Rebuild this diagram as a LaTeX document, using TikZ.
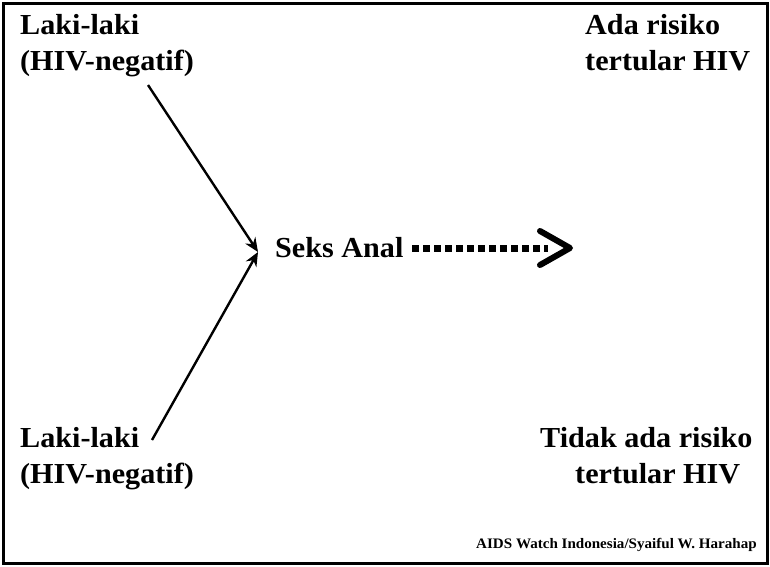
\documentclass[tikz,border=0pt]{standalone}
\usepackage{fontspec}
\setmainfont{Liberation Serif}[FakeStretch=1.04]
\usetikzlibrary{arrows.meta}
\begin{document}
\begin{tikzpicture}[x=1pt,y=-1pt,
  lbl/.style={font=\fontsize{29}{36}\selectfont\bfseries,inner sep=0pt,align=left},
  arr/.style={line width=2.4pt,-{Stealth[length=14pt,width=12pt]}}]
\useasboundingbox (0,0) rectangle (770,566);
\draw[line width=3pt] (3,3) rectangle (767,563);
\node[lbl,anchor=north west] (tl) at (20,14) {Laki-laki\\(HIV-negatif)};
\node[lbl,anchor=north west] (bl) at (20,427) {Laki-laki\\(HIV-negatif)};
\node[lbl,anchor=north west] (tr1) at (585,14) {Ada risiko};
\node[lbl,anchor=north west] (tr2) at (585,50) {tertular HIV};
\node[lbl,anchor=north west] (br1) at (540,427) {Tidak ada risiko};
\node[lbl,anchor=north west] (br2) at (575,463) {tertular HIV};
\node[lbl,anchor=west] (sa) at (275,248) {Seks Anal};
\node[font=\fontsize{14.5}{16}\selectfont\bfseries,anchor=east,inner sep=0pt] (cr) at (757,545) {AIDS Watch Indonesia/Syaiful W. Harahap};
\coordinate (t1) at (148,85);
\coordinate (t2) at (152,440);
\coordinate (h) at (258,252);
\coordinate (d1) at (412,248);
\coordinate (d2) at (570,248);
\draw[arr] (t1) -- (h);
\draw[arr] (t2) -- (h);
\draw[line width=7pt,dash pattern=on 7pt off 4pt] (d1) -- (548,248);
\draw[line width=6pt,line cap=round,line join=round] (540,231) -- (d2) -- (540,265);
\end{tikzpicture}
\end{document}
